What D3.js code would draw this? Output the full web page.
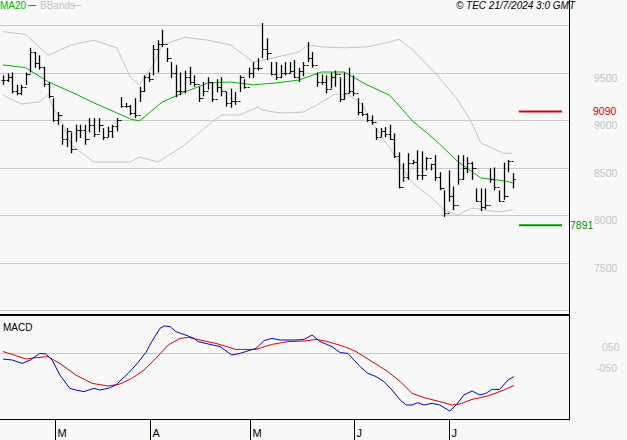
<!DOCTYPE html>
<html>
<head>
<meta charset="utf-8">
<script src="https://cdn.jsdelivr.net/npm/d3@7"></script>
<style>
  body { margin: 0; background: #f8f8f8; }
  text { font-family: "Liberation Sans", Arial, sans-serif; }
</style>
</head>
<body>
<div id="chart"></div>
<script>
// Daily bars, 15 Feb - 19 Jul 2024
const highs = [
  9470, 9490, 9500, 9370, 9370, 9500, 9760, 9715, 9680, 9560,
  9400, 9230, 9085, 8950, 8915, 8870, 8950, 8950, 8950, 9020,
  9020, 9020, 8915, 8930, 8950, 9020, 9240, 9180, 9160, 9230,
  9350, 9470, 9500, 9790, 9840, 9950, 9760, 9610, 9580, 9500,
  9520, 9560, 9470, 9350, 9400, 9450, 9400, 9430, 9450, 9295,
  9330, 9295, 9470, 9430, 9550, 9610, 9650, 10020, 9860, 9610,
  9610, 9580, 9610, 9610, 9630, 9550, 9610, 9820, 9715, 9500,
  9480, 9470, 9500, 9520, 9450, 9500, 9550, 9470, 9230, 9180,
  9070, 9050, 8915, 8915, 8925, 8950, 8860, 8660, 8545, 8650,
  8580, 8680, 8670, 8610, 8540, 8630, 8450, 8260, 8470, 8300,
  8630, 8630, 8610, 8560, 8280, 8280, 8280, 8490, 8500, 8260,
  8550, 8580, 8440
];
const lows = [
  9370, 9400, 9280, 9260, 9260, 9370, 9500, 9550, 9530, 9350,
  9230, 8980, 8950, 8740, 8715, 8650, 8770, 8810, 8740, 8870,
  8820, 8870, 8790, 8820, 8810, 8880, 9130, 9130, 9050, 9020,
  9190, 9295, 9400, 9470, 9500, 9770, 9610, 9440, 9240, 9260,
  9280, 9370, 9350, 9190, 9250, 9320, 9190, 9290, 9250, 9140,
  9130, 9160, 9295, 9330, 9440, 9440, 9520, 9650, 9630, 9470,
  9420, 9440, 9470, 9490, 9440, 9400, 9460, 9610, 9550, 9350,
  9370, 9280, 9330, 9350, 9190, 9210, 9280, 9250, 9050, 9040,
  8980, 8950, 8790, 8820, 8820, 8790, 8600, 8280, 8350, 8370,
  8530, 8370, 8370, 8470, 8470, 8360, 8260, 7980, 8140, 8050,
  8320, 8370, 8440, 8370, 8140, 8040, 8060, 8340, 8260, 8140,
  8160, 8450, 8280
];
const closes = [
  9420, 9450, 9300, 9280, 9350, 9480, 9720, 9600, 9560, 9380,
  9250, 9000, 9050, 8800, 8880, 8700, 8900, 8900, 8800, 8950,
  8850, 8950, 8820, 8880, 8940, 9000, 9150, 9150, 9070, 9050,
  9300, 9450, 9430, 9750, 9800, 9800, 9650, 9500, 9300, 9300,
  9450, 9400, 9380, 9230, 9300, 9400, 9220, 9350, 9300, 9180,
  9200, 9200, 9450, 9350, 9500, 9550, 9550, 9750, 9700, 9480,
  9450, 9500, 9500, 9520, 9450, 9520, 9580, 9650, 9580, 9400,
  9400, 9330, 9450, 9480, 9220, 9280, 9300, 9280, 9080, 9060,
  9000, 8980, 8820, 8880, 8850, 8800, 8620, 8300, 8400, 8550,
  8560, 8420, 8420, 8600, 8540, 8400, 8280, 8020, 8200, 8100,
  8380, 8500, 8550, 8500, 8150, 8080, 8100, 8380, 8300, 8150,
  8200, 8570, 8380
];

// Indicators: [bar index, value]
const ma20 = [
  [0, 9580], [5, 9550], [10, 9400], [15, 9295], [20, 9180], [25, 9075], [28, 9010],
  [30, 8990], [35, 9190], [40, 9295], [45, 9390], [50, 9400], [55, 9370], [60, 9390],
  [65, 9420], [70, 9505], [75, 9505], [80, 9370], [85, 9260], [90, 8990], [95, 8790],
  [100, 8560], [105, 8390], [110, 8360], [112, 8340]
];
const upperBand = [
  [0, 9930], [5, 9900], [10, 9680], [15, 9790], [20, 9840], [25, 9760], [28, 9450],
  [30, 9370], [33, 9580], [35, 9790], [40, 9870], [45, 9840], [50, 9790], [55, 9610],
  [57, 9630], [60, 9660], [65, 9715], [67, 9790], [70, 9770], [75, 9760], [80, 9770],
  [85, 9820], [87, 9850], [90, 9740], [95, 9495], [100, 9210], [103, 8970], [105, 8760],
  [110, 8650], [112, 8650]
];
const lowerBand = [
  [0, 9263], [4, 9168], [8, 9190], [10, 9263], [11, 9126], [13, 8979], [15, 8737],
  [20, 8558], [28, 8558], [30, 8611], [34, 8558], [39, 8705], [46, 8979], [48, 9053],
  [52, 9053], [56, 9137], [57, 9105], [61, 9074], [66, 9084], [69, 9158], [73, 9274],
  [76, 9263], [79, 9158], [81, 8979], [85, 8705], [90, 8337], [94, 8190], [97, 8053],
  [100, 8000], [103, 8074], [109, 8032], [112, 8053]
];
const macdLine = [
  [0, -30], [2, -35], [4.2, -52], [6, -35], [8.1, -2], [9.4, -5], [10.8, -35], [12.5, -110],
  [14.7, -177], [16, -185], [17.8, -193], [20, -177], [21.3, -185], [23.1, -177], [24.8, -160],
  [27.5, -102], [29.2, -60], [31.4, 2], [32.7, 57], [34.5, 123], [35.4, 135], [36.7, 132],
  [38, 107], [40.7, 85], [42, 73], [42.9, 57], [45.1, 45], [47.7, 32], [50.3, -10], [52.1, -2],
  [55.6, 23], [57.4, 62], [59.1, 73], [60.9, 65], [64.4, 65], [66.2, 68], [67.9, 90], [69.7, 57],
  [72.3, 32], [74.1, 2], [75.8, -2], [78.5, -68], [80.2, -102], [82, -118], [83.7, -143],
  [85.5, -185], [87.3, -235], [88.6, -260], [89.9, -260], [91.2, -248], [92.5, -260],
  [94.3, -252], [96, -260], [97.8, -285], [98.2, -290], [99.6, -260], [101.3, -210],
  [103.1, -190], [104.8, -210], [106.1, -202], [107.5, -182], [109.2, -182], [111, -135],
  [112.3, -118]
];
const signalLine = [
  [0, 7], [2, -7], [5, -30], [7.3, -23], [9.9, -18], [12.5, -52], [16, -110], [19.6, -152],
  [23.1, -165], [25.7, -155], [28.3, -127], [31, -85], [33.6, -27], [36.3, 40], [38.9, 73],
  [40.7, 78], [43.3, 65], [46.8, 48], [51.2, 18], [55.6, 18], [59.1, 43], [62.6, 57],
  [66.2, 60], [68.8, 68], [71.4, 57], [75, 32], [77.6, 7], [81.1, -43], [84.6, -93],
  [87.3, -143], [89.9, -202], [92.5, -223], [96, -243], [98.7, -260], [100.4, -255],
  [103.1, -232], [106.6, -215], [110.1, -185], [112.3, -162]
];

const priceTicks = [9500, 9000, 8500, 8000, 7500];
const gridLevels = [10000, 9500, 9000, 8500, 8000, 7500, 7000];
const monthTicks = [["M", 11.4], ["A", 32.3], ["M", 54.3], ["J", 77.2], ["J", 98.0]];
const resistance = 9090, support = 7891;

const width = 627, height = 440;
const svg = d3.select("#chart").append("svg")
  .attr("width", width).attr("height", height)
  .style("background", "#f8f8f8");

const x = d3.scaleLinear().domain([0, 112]).range([3, 512.6]);
const y = d3.scaleLinear().domain([7000, 10000]).range([310, 25]);
const ym = d3.scaleLinear().domain([-300, 200]).range([413, 313]);

// grid
svg.selectAll(".grid").data(gridLevels).enter().append("line")
  .attr("x1", 0).attr("x2", 569)
  .attr("y1", d => Math.round(y(d)) + 0.5).attr("y2", d => Math.round(y(d)) + 0.5)
  .attr("stroke", "#c8c8c8");
svg.append("line").attr("x1", 0).attr("x2", 569)
  .attr("y1", Math.round(ym(0)) + 0.5).attr("y2", Math.round(ym(0)) + 0.5)
  .attr("stroke", "#c8c8c8");

// bollinger + ma
const ln = d3.line().x(d => x(d[0]));
svg.append("path").datum(upperBand).attr("d", ln.y(d => y(d[1])))
  .attr("fill", "none").attr("stroke", "#c4c4c4");
svg.append("path").datum(lowerBand).attr("d", ln.y(d => y(d[1])))
  .attr("fill", "none").attr("stroke", "#c4c4c4");
svg.append("path").datum(ma20).attr("d", ln.y(d => y(d[1])))
  .attr("fill", "none").attr("stroke", "#00b400");

// OHLC bars (open = previous close)
const bars = svg.selectAll(".bar").data(closes).enter().append("g")
  .attr("transform", (d, i) => `translate(${Math.round(x(i)) + 0.5},0)`);
bars.append("line")
  .attr("y1", (d, i) => y(highs[i])).attr("y2", (d, i) => y(lows[i]))
  .attr("stroke", "#000").attr("stroke-width", 1.3);
bars.append("line")
  .attr("x1", -2).attr("x2", 0)
  .attr("y1", (d, i) => Math.round(y(i ? closes[i - 1] : d)) + 0.5)
  .attr("y2", (d, i) => Math.round(y(i ? closes[i - 1] : d)) + 0.5)
  .attr("stroke", "#000");
bars.append("line")
  .attr("x1", 0).attr("x2", 2)
  .attr("y1", d => Math.round(y(d)) + 0.5).attr("y2", d => Math.round(y(d)) + 0.5)
  .attr("stroke", "#000");

// support / resistance
svg.append("line").attr("x1", 519).attr("x2", 562)
  .attr("y1", y(resistance)).attr("y2", y(resistance))
  .attr("stroke", "#e00000").attr("stroke-width", 2);
svg.append("line").attr("x1", 519).attr("x2", 562)
  .attr("y1", y(support)).attr("y2", y(support))
  .attr("stroke", "#009600").attr("stroke-width", 2);

// macd
svg.append("path").datum(signalLine).attr("d", ln.y(d => ym(d[1])))
  .attr("fill", "none").attr("stroke", "#e00000");
svg.append("path").datum(macdLine).attr("d", ln.y(d => ym(d[1])))
  .attr("fill", "none").attr("stroke", "#0000dd");

// frame
svg.append("line").attr("x1", 569.5).attr("x2", 569.5).attr("y1", 0).attr("y2", 420).attr("stroke", "#000");
svg.append("line").attr("x1", 0).attr("x2", 570).attr("y1", 315).attr("y2", 315).attr("stroke", "#000").attr("stroke-width", 2);
svg.append("line").attr("x1", 0).attr("x2", 570).attr("y1", 419.5).attr("y2", 419.5).attr("stroke", "#000");

// right axis labels
svg.selectAll(".pt").data(priceTicks).enter().append("text")
  .attr("x", 594).attr("y", d => y(d) + 9)
  .attr("font-size", 10.5).attr("fill", "#c4c4c4").text(d => d);
svg.append("text").attr("x", 593).attr("y", y(resistance) + 4)
  .attr("font-size", 10.5).attr("fill", "#e00000").text(resistance);
svg.append("text").attr("x", 570).attr("y", y(support) + 4)
  .attr("font-size", 10.5).attr("fill", "#009600").text(support);
svg.append("text").attr("x", 602).attr("y", ym(30) + 4)
  .attr("font-size", 10.5).attr("fill", "#c4c4c4").text("050");
svg.append("text").attr("x", 596).attr("y", ym(-75) + 4)
  .attr("font-size", 10.5).attr("fill", "#c4c4c4").text("-050");

// month ticks
const mt = svg.selectAll(".mt").data(monthTicks).enter().append("g")
  .attr("transform", d => `translate(${Math.round(x(d[1])) + 0.5},0)`);
mt.append("line").attr("y1", 420).attr("y2", 440).attr("stroke", "#000");
mt.append("text").attr("x", 2).attr("y", 437).attr("font-size", 11).text(d => d[0]);

// legend
svg.append("text").attr("x", 0).attr("y", 9).attr("font-size", 10).attr("fill", "#00b400").text("MA20");
svg.append("line").attr("x1", 28).attr("x2", 36).attr("y1", 5.5).attr("y2", 5.5).attr("stroke", "#00b400");
svg.append("text").attr("x", 40).attr("y", 9).attr("font-size", 10).attr("fill", "#c4c4c4").text("BBands");
svg.append("line").attr("x1", 73).attr("x2", 81).attr("y1", 5.5).attr("y2", 5.5).attr("stroke", "#c4c4c4");
svg.append("text").attr("x", 575).attr("y", 9).attr("font-size", 10).attr("font-style", "italic")
  .attr("text-anchor", "end").text("© TEC 21/7/2024 3:0 GMT");
svg.append("text").attr("x", 3).attr("y", 331).attr("font-size", 10).text("MACD");
</script>
</body>
</html>
